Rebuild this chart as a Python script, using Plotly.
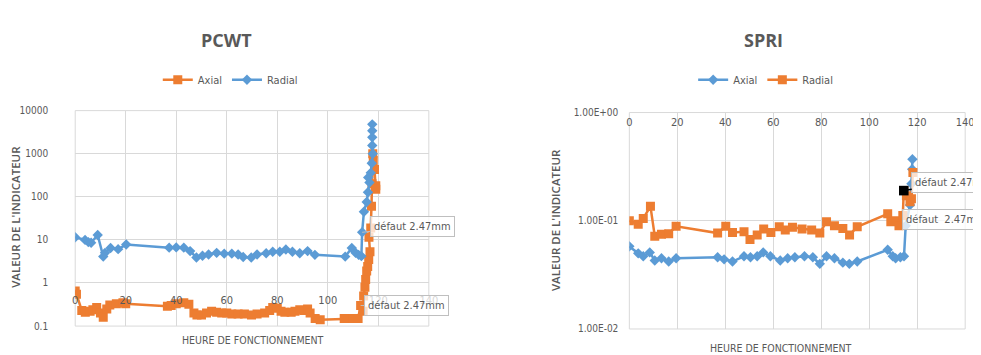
import plotly.graph_objects as go
import math

# ---------------- DATA ----------------
# PCWT chart
pcwt_axial_x = [0, 0.5, 2.6, 4, 5.9, 7, 8.5, 10, 11.1, 12.5, 13.7, 16.3, 18.9, 20,
                36.5, 38, 40, 43, 45, 47, 48.2, 50, 52, 54, 56, 58, 60, 62, 64.5, 67,
                69.8, 72, 75, 77, 78.2, 80, 81.5, 83, 85.5, 87, 88.9, 90.5, 92, 93,
                95, 97, 106.5, 108, 110, 112, 113, 114, 114.2, 114.7, 115, 115.4, 115.8,
                116.2, 116.7, 116.3, 117, 117.3, 117.5, 117.8, 118, 118.5, 119, 119]
pcwt_axial_y = [0.65, 0.55, 0.23, 0.21, 0.22, 0.24, 0.27, 0.2, 0.16, 0.25, 0.31, 0.33, 0.35, 0.33,
                0.29, 0.3, 0.33, 0.35, 0.32, 0.2, 0.18, 0.18, 0.2, 0.22, 0.21, 0.2, 0.2, 0.19, 0.19, 0.19,
                0.18, 0.19, 0.2, 0.23, 0.27, 0.26, 0.22, 0.21, 0.21, 0.22, 0.24, 0.23, 0.25, 0.2,
                0.15, 0.14, 0.15, 0.15, 0.15, 0.15, 0.3, 0.22, 0.5, 0.8, 1.2, 1.9, 2.4,
                3.5, 5.3, 11.5, 19, 60, 200, 1000, 700, 430, 180, 150]

pcwt_radial_x = [0, 3.9, 5.2, 6.3, 8.9, 11.1, 11.8, 14, 17, 20.2, 37.2, 40, 43, 45.5,
                 48, 50.4, 52.8, 56, 59, 62, 64.5, 66.5, 69.7, 72, 75.6, 78.2, 81, 83.4,
                 86, 88.9, 92, 94.9, 106.9, 109.5, 111, 112.2, 113.3, 113.6, 114.3, 115.4,
                 115.9, 116.5, 116.0, 117, 117.4, 117.8, 117.6, 117.6, 117.6, 117.6]
pcwt_radial_y = [11.5, 10, 8.9, 8.6, 13, 4.1, 5, 6.5, 6.1, 7.8, 6.6, 6.7, 6.6, 5.5,
                 3.9, 4.3, 4.6, 5.0, 4.8, 4.8, 4.6, 4.0, 3.9, 4.6, 4.9, 5.3, 5.3, 6.0,
                 5.3, 4.9, 5.5, 4.5, 4.1, 6.5, 5.0, 4.5, 4.2, 15, 45, 76,
                 128, 215, 280, 360, 600, 1000, 1550, 2400, 3400, 4800]

# SPRI chart
spri_axial_x = [0, 3.7, 5.8, 8.5, 10.6, 13.4, 16.4, 19.5, 36.8, 39.5, 43, 47.8, 50.5, 53.3,
                55.8, 58.8, 62.9, 66, 69, 73, 76.5, 79.4, 82.2, 85.5, 89, 91.7, 95, 107.7,
                109.8, 111, 113, 114.5, 115.2, 117, 117.6, 117.9, 118]
spri_axial_y = [0.058, 0.050, 0.047, 0.051, 0.043, 0.045, 0.042, 0.045, 0.046, 0.044, 0.042, 0.047,
                0.046, 0.047, 0.051, 0.047, 0.043, 0.045, 0.046, 0.047, 0.046, 0.040, 0.047, 0.045,
                0.041, 0.040, 0.042, 0.054, 0.047, 0.045, 0.046, 0.047, 0.09, 0.14, 0.22, 0.30, 0.37]

spri_radial_x = [0, 3.7, 5.8, 8.8, 10.6, 13.4, 16.4, 19.5, 36.8, 40.2, 43, 47.8, 50.3, 53.3,
                 56, 59, 62.5, 65, 68, 72, 76, 79.4, 82.2, 85.5, 89, 91.8, 95, 107.7, 109,
                 111, 112.4, 114, 114.4, 115.5, 117, 117.6, 118.2]
spri_radial_y = [0.10, 0.093, 0.105, 0.136, 0.072, 0.075, 0.076, 0.089, 0.077, 0.089, 0.078,
                 0.079, 0.067, 0.074, 0.084, 0.078, 0.088, 0.082, 0.087, 0.084, 0.082, 0.077,
                 0.098, 0.09, 0.085, 0.074, 0.088, 0.116, 0.098, 0.10, 0.09, 0.112, 0.19,
                 0.17, 0.15, 0.16, 0.28]

x_ticks = [0, 20, 40, 60, 80, 100, 120, 140]
pcwt_y_ticks = [0.1, 1, 10, 100, 1000, 10000]
pcwt_y_labels = ["0.1", "1", "10", "100", "1000", "10000"]
spri_y_ticks = [0.01, 0.1, 1]
spri_y_labels = ["1.00E-02", "1.00E-01", "1.00E+00"]

annot_text = "défaut 2.47mm"
annot_text2 = "défaut  2.47mm"

# ---------------- STYLE ----------------
W, H = 981, 355
ORANGE = "#ED7D31"
BLUE = "#5B9BD5"
GRID = "#D9D9D9"
TXT = "#595959"
NARROW = "Liberation Sans Narrow, DejaVu Sans Condensed, Arial Narrow, sans-serif"

def px_x(p):
    return p / W

def px_y(p):
    return 1 - p / H

# plot-area domains (in pixels from reference)
L_dom_x = [px_x(65), px_x(423)]
L_dom_y = [px_y(323), px_y(100)]
R_dom_x = [px_x(626), px_x(966)]
R_dom_y = [px_y(326), px_y(102)]

L_yrange = [math.log10(pcwt_y_ticks[0]), math.log10(pcwt_y_ticks[-1])]
R_yrange = [math.log10(spri_y_ticks[0]), math.log10(spri_y_ticks[-1])]
# x axis crosses at value 1
L_cross = L_dom_y[0] + (0 - L_yrange[0]) / (L_yrange[1] - L_yrange[0]) * (L_dom_y[1] - L_dom_y[0])
R_cross = R_dom_y[0] + (0 - R_yrange[0]) / (R_yrange[1] - R_yrange[0]) * (R_dom_y[1] - R_dom_y[0])

fig = go.Figure()

sq = dict(symbol="square", size=9, color=ORANGE)
dm = dict(symbol="diamond", size=8, color=BLUE)

fig.add_trace(go.Scatter(x=pcwt_axial_x, y=pcwt_axial_y, name="Axial", mode="lines+markers",
                         line=dict(color=ORANGE, width=2.5), marker=sq, xaxis="x", yaxis="y",
                         legend="legend"))
fig.add_trace(go.Scatter(x=pcwt_radial_x, y=pcwt_radial_y, name="Radial", mode="lines+markers",
                         line=dict(color=BLUE, width=2.5), marker=dm, xaxis="x", yaxis="y",
                         legend="legend"))
fig.add_trace(go.Scatter(x=spri_axial_x, y=spri_axial_y, name="Axial", mode="lines+markers",
                         line=dict(color=BLUE, width=2.5), marker=dm, xaxis="x2", yaxis="y2",
                         legend="legend2"))
fig.add_trace(go.Scatter(x=spri_radial_x, y=spri_radial_y, name="Radial", mode="lines+markers",
                         line=dict(color=ORANGE, width=2.5), marker=sq, xaxis="x2", yaxis="y2",
                         legend="legend2"))

xcommon = dict(range=[0, 140], tickvals=x_ticks, showgrid=True, gridcolor=GRID, gridwidth=1,
               zeroline=False, showline=False, anchor="free", side="bottom", ticks="",
               tickfont=dict(family=NARROW, size=11, color=TXT))
ycommon = dict(type="log", showgrid=True, gridcolor=GRID, gridwidth=1, zeroline=False,
               showline=False, ticks="", tickfont=dict(family=NARROW, size=10, color=TXT))

fig.update_layout(
    width=W, height=H, autosize=False,
    margin=dict(l=0, r=0, t=0, b=0),
    paper_bgcolor="white", plot_bgcolor="white",
    showlegend=True,
    xaxis=dict(domain=L_dom_x, position=L_cross, ticklabelstandoff=9, **xcommon),
    yaxis=dict(domain=L_dom_y, range=L_yrange, tickvals=pcwt_y_ticks, ticktext=pcwt_y_labels,
               anchor="x", ticklabelstandoff=26, **ycommon),
    xaxis2=dict(domain=R_dom_x, position=R_cross, ticklabelstandoff=1, **xcommon),
    yaxis2=dict(domain=R_dom_y, range=R_yrange, tickvals=spri_y_ticks, ticktext=spri_y_labels,
                anchor="x2", ticklabelstandoff=10, **ycommon),
    legend=dict(orientation="h", x=px_x(222), xanchor="center", y=px_y(68), yanchor="middle",
                font=dict(family=NARROW, size=11, color=TXT), itemwidth=30,
                bgcolor="rgba(0,0,0,0)", tracegroupgap=0),
    legend2=dict(orientation="h", x=px_x(764), xanchor="center", y=px_y(68), yanchor="middle",
                 font=dict(family=NARROW, size=11, color=TXT), itemwidth=30,
                 bgcolor="rgba(0,0,0,0)", tracegroupgap=0),
)

# plot-area frames
for xr, yr in (("x domain", "y domain"), ("x2 domain", "y2 domain")):
    fig.add_shape(type="rect", xref=xr, yref=yr, x0=0, x1=1, y0=0, y1=1,
                  line=dict(color=GRID, width=1), layer="below")

annots = []
# titles
for t, xc in (("PCWT", 218), ("SPRI", 762)):
    annots.append(dict(text="<b>" + t + "</b>", x=px_x(xc), y=px_y(27), xref="paper", yref="paper",
                       xanchor="center", yanchor="middle", showarrow=False,
                       font=dict(family="Open Sans, sans-serif", size=18, color=TXT)))
# axis titles
for xc, yc in ((5, 210), (552, 213)):
    annots.append(dict(text="VALEUR DE L'INDICATEUR", x=px_x(xc), y=px_y(yc), xref="paper", yref="paper",
                       textangle=-90, showarrow=False, xanchor="center", yanchor="middle",
                       font=dict(family="Open Sans, sans-serif", size=11.5, color=TXT, weight=600)))
for xc, yc in ((245, 337), (780, 346)):
    annots.append(dict(text="HEURE DE FONCTIONNEMENT", x=px_x(xc), y=px_y(yc), xref="paper", yref="paper",
                       showarrow=False, xanchor="center", yanchor="middle",
                       font=dict(family=NARROW, size=10.5, color=TXT)))

box = dict(bgcolor="rgba(255,255,255,0.75)", bordercolor="#BFBFBF", borderwidth=1, borderpad=3,
           font=dict(family=NARROW, size=11, color=TXT))
# PCWT annotations (on data points)
i_r = pcwt_radial_y.index(15)
annots.append(dict(text=annot_text, x=pcwt_radial_x[i_r], y=math.log10(pcwt_radial_y[i_r]),
                   xref="x", yref="y", showarrow=True, arrowhead=0, arrowwidth=1, arrowcolor="#BFBFBF",
                   ax=50, ay=-6, **box))
i_a = pcwt_axial_x.index(113)
annots.append(dict(text=annot_text, x=pcwt_axial_x[i_a], y=math.log10(pcwt_axial_y[i_a]),
                   xref="x", yref="y", showarrow=True, arrowhead=0, arrowwidth=1, arrowcolor="#BFBFBF",
                   ax=46, ay=0, **box))
# SPRI annotations
i_sr = spri_radial_x.index(114.4)
annots.append(dict(text=annot_text, x=spri_radial_x[i_sr], y=math.log10(spri_radial_y[i_sr]),
                   xref="x2", yref="y2", showarrow=True, arrowhead=7, arrowsize=1.6, arrowwidth=1.5,
                   arrowcolor="black", ax=50, ay=-8, startstandoff=0, **box))
i_sa = spri_axial_x.index(115.2)
annots.append(dict(text=annot_text2, x=spri_axial_x[i_sa], y=math.log10(spri_axial_y[i_sa]),
                   xref="x2", yref="y2", showarrow=True, arrowhead=7, arrowsize=1.2, arrowwidth=1.5,
                   arrowcolor="black", ax=40, ay=-6, **box))

fig.update_layout(annotations=annots)

fig.write_html("out.html")
